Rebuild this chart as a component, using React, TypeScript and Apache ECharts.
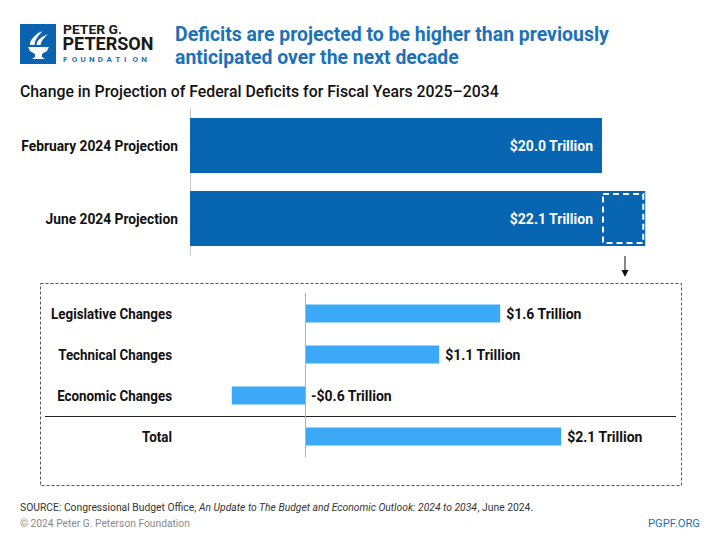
import React, { useEffect, useRef } from "react";
import * as echarts from "echarts";

const topCategories = ["February 2024 Projection", "June 2024 Projection"];
const topValues = [20.0, 22.1];

const changeCategories = ["Legislative Changes", "Technical Changes", "Economic Changes", "Total"];
const changeValues = [1.6, 1.1, -0.6, 2.1];

const DARK = "#0865b1";
const LIGHT = "#3ca9f6";
const TITLE_BLUE = "#1d71b8";
const FONT = "Roboto, 'Liberation Sans', sans-serif";
const TOP_BAR_H = 55;

const fmt = (v: number) => (v < 0 ? `-$${Math.abs(v).toFixed(1)} Trillion` : `$${v.toFixed(1)} Trillion`);

const torchPath =
  "M8 21 L29 21 L27 25 L22 28 L22 31 L25 33 L12 33 L15 31 L15 28 L10 25 Z " +
  "M10 19 C10 13 15 9 23 5 C19 9 15 13 14.5 19 Z " +
  "M16.5 19 C17 14 21 11 28 8 C24 12 21 15 20.5 19 Z " +
  "M13 12 C15 9 18 7 21 5 C18 8 16 10 15 13 Z";

echarts.graphic.registerShape("torch", echarts.graphic.extendPath(torchPath, {}) as any);

let measureCtx: CanvasRenderingContext2D | null = null;
function textW(text: string, font: string) {
  if (!measureCtx) measureCtx = document.createElement("canvas").getContext("2d");
  measureCtx!.font = font;
  return measureCtx!.measureText(text).width;
}
function sizeFor(text: string, weight: string, target: number) {
  return (100 * target) / textW(text, `${weight} 100px ${FONT}`);
}
function fitText(
  text: string,
  x: number,
  y: number,
  size: number,
  weight: string,
  width: number,
  fill: string,
  align: string = "left"
) {
  const font = `${weight} ${size}px ${FONT}`;
  const sx = width / textW(text, font);
  return { type: "text", x, y, scaleX: sx, style: { text, font, fill, align, verticalAlign: "middle" } };
}

// category labels drawn as condensed text at the axis' band centres
function categoryLabelSeries(
  cats: string[],
  axisIndex: number,
  margin: number,
  fontSize: number,
  refWidth: number
) {
  const font = `bold ${fontSize}px ${FONT}`;
  const sx = refWidth / textW(cats[0], font);
  return {
    type: "custom",
    xAxisIndex: axisIndex,
    yAxisIndex: axisIndex,
    silent: true,
    data: cats.map((c, i) => [0, i]),
    encode: { x: 0, y: 1 },
    renderItem: (params: any, api: any) => {
      const pt = api.coord([0, api.value(1)]);
      return {
        type: "text",
        x: params.coordSys.x - margin,
        y: pt[1],
        scaleX: sx,
        style: { text: cats[params.dataIndex], font, fill: "#111", align: "right", verticalAlign: "middle" },
      };
    },
  };
}

export default function App() {
  const ref = useRef<HTMLDivElement>(null);
  useEffect(() => {
    if (!ref.current) return;
    const chart = echarts.init(ref.current, null, { renderer: "svg" });
    const febValue = topValues[0];
    const baseData = topValues.map((v) => Math.min(v, febValue));
    const incData = topValues.map((v) => (v > febValue ? +(v - febValue).toFixed(1) : "-"));

    const valueSize = Math.min(14, sizeFor("$20.0 Trillion", "bold", 87));

    const foundation = "FOUNDATION".split("").map((ch, i) => ({
      type: "text",
      x: 63 + i * 8.7,
      y: 59,
      style: { text: ch, fill: TITLE_BLUE, font: `bold 8px ${FONT}`, verticalAlign: "middle" },
    }));

    const sourceText =
      "SOURCE: Congressional Budget Office, An Update to The Budget and Economic Outlook: 2024 to 2034, June 2024.";
    const sourceScale = 521 / textW(sourceText, `11px ${FONT}`);

    chart.setOption({
      animation: false,
      backgroundColor: "#ffffff",
      textStyle: { fontFamily: FONT },
      grid: [
        { left: 190, top: 109, width: 515, height: 146 },
        { left: 183, top: 293, width: 488, height: 164 },
      ],
      xAxis: [
        { gridIndex: 0, type: "value", min: 0, max: 25, show: false },
        { gridIndex: 1, type: "value", min: -1, max: 3, show: false },
      ],
      yAxis: [
        {
          gridIndex: 0,
          type: "category",
          data: topCategories,
          inverse: true,
          axisLine: { show: true, lineStyle: { color: "#c8c8c8", width: 1 } },
          axisTick: { show: false },
          axisLabel: { show: false },
        },
        {
          gridIndex: 1,
          type: "category",
          data: changeCategories,
          inverse: true,
          axisLine: { show: false },
          axisTick: { show: false },
          axisLabel: { show: false },
        },
      ],
      series: [
        {
          type: "bar",
          xAxisIndex: 0,
          yAxisIndex: 0,
          stack: "proj",
          data: baseData,
          barWidth: TOP_BAR_H,
          itemStyle: { color: DARK },
          label: {
            show: true,
            position: "insideRight",
            distance: 9,
            color: "#fff",
            fontSize: valueSize,
            fontWeight: "bold",
            fontFamily: FONT,
            formatter: (p: any) => fmt(topValues[p.dataIndex]),
          },
        },
        {
          type: "bar",
          xAxisIndex: 0,
          yAxisIndex: 0,
          stack: "proj",
          data: incData,
          barWidth: TOP_BAR_H,
          itemStyle: { color: DARK },
        },
        {
          type: "custom",
          xAxisIndex: 0,
          yAxisIndex: 0,
          data: topValues
            .map((v, i) => (v > febValue ? [febValue, v, i] : null))
            .filter((d) => d !== null),
          encode: { x: [0, 1], y: 2 },
          renderItem: (params: any, api: any) => {
            const s = api.coord([api.value(0), api.value(2)]);
            const e = api.coord([api.value(1), api.value(2)]);
            return {
              type: "rect",
              shape: { x: s[0] + 1, y: s[1] - TOP_BAR_H / 2 + 3, width: e[0] - s[0] - 3, height: TOP_BAR_H - 6 },
              style: { fill: "none", stroke: "#ffffff", lineWidth: 2, lineDash: [6, 4] },
            };
          },
          z: 5,
        },
        categoryLabelSeries(topCategories, 0, 12, 14.5, 157),
        {
          type: "bar",
          xAxisIndex: 1,
          yAxisIndex: 1,
          data: changeValues,
          barWidth: 18,
          itemStyle: { color: LIGHT },
          label: {
            show: true,
            position: "right",
            distance: 6,
            color: "#111",
            fontSize: valueSize,
            fontWeight: "bold",
            fontFamily: FONT,
            formatter: (p: any) => fmt(p.value),
          },
          markLine: {
            silent: true,
            symbol: "none",
            label: { show: false },
            lineStyle: { color: "#b0b0b0", width: 1, type: "solid" },
            data: [{ xAxis: 0 }],
          },
        },
        categoryLabelSeries(changeCategories, 1, 11, 14, 121),
      ],
      graphic: [
        { type: "rect", shape: { x: 20, y: 24, width: 36, height: 40 }, style: { fill: "#0b62b0" } },
        { type: "torch", x: 20, y: 26, scaleX: 1, scaleY: 1, style: { fill: "#ffffff" } },
        fitText("PETER G.", 63, 29.5, 12.5, "bold", 59, "#1a1a1a"),
        fitText("PETERSON", 62.5, 44, 17.5, "bold", 91, "#1a1a1a"),
        ...foundation,
        fitText("Deficits are projected to be higher than previously", 175, 34, 21, "bold", 434, TITLE_BLUE),
        fitText("anticipated over the next decade", 175, 57, 21, "bold", 284, TITLE_BLUE),
        fitText("Change in Projection of Federal Deficits for Fiscal Years 2025\u20132034", 20, 91, 16.5, "500", 479, "#111"),
        { type: "line", shape: { x1: 625, y1: 256, x2: 625, y2: 272 }, style: { stroke: "#111", lineWidth: 1 } },
        { type: "polygon", shape: { points: [[621.5, 270], [628.5, 270], [625, 277]] }, style: { fill: "#111" } },
        {
          type: "rect",
          shape: { x: 40.5, y: 283.5, width: 641, height: 202 },
          style: { fill: "none", stroke: "#555", lineWidth: 1, lineDash: [3, 2] },
          z: -1,
        },
        { type: "line", shape: { x1: 45, y1: 416.5, x2: 676, y2: 416.5 }, style: { stroke: "#222", lineWidth: 1 } },
        {
          type: "text",
          x: 20,
          y: 507,
          scaleX: sourceScale,
          style: {
            text: "SOURCE: Congressional Budget Office, {i|An Update to The Budget and Economic Outlook: 2024 to 2034}, June 2024.",
            fill: "#333",
            font: `11px ${FONT}`,
            verticalAlign: "middle",
            rich: { i: { fontStyle: "italic", fontSize: 11, fontFamily: FONT, fill: "#333" } },
          } as any,
        },
        fitText("\u00a9 2024 Peter G. Peterson Foundation", 20, 523, 11, "normal", 170, "#8a8a8a"),
        fitText("PGPF.ORG", 700, 523, 11.5, "normal", 52, TITLE_BLUE, "right"),
      ],
    } as any);
    return () => chart.dispose();
  }, []);
  return <div ref={ref} style={{ position: "absolute", left: 0, top: 0, width: 720, height: 540 }} />;
}
